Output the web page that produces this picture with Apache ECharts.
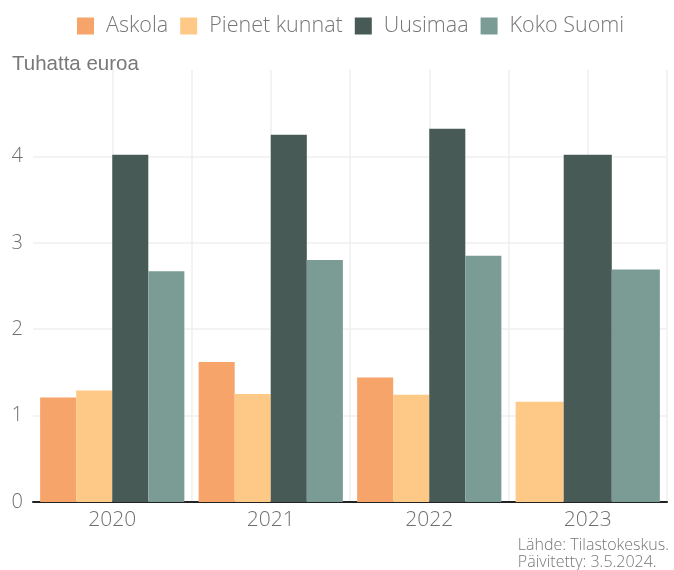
<!DOCTYPE html>
<html>
<head>
<meta charset="utf-8">
<script src="https://cdn.jsdelivr.net/npm/echarts@6/dist/echarts.min.js"></script>
<style>html,body{margin:0;padding:0;background:#fff}#c{width:674px;height:570px}</style>
</head>
<body>
<div id="c"></div>
<script>
const categories = ['2020', '2021', '2022', '2023'];
const seriesNames = ['Askola', 'Pienet kunnat', 'Uusimaa', 'Koko Suomi'];
const askola = [1.21, 1.62, 1.44, null];
const pienetKunnat = [1.29, 1.25, 1.24, 1.16];
const uusimaa = [4.02, 4.25, 4.32, 4.02];
const kokoSuomi = [2.67, 2.80, 2.85, 2.69];
const yTicks = [0, 1, 2, 3, 4, 5];
const colors = ['#f6a46a', '#fec986', '#485a55', '#7a9c95'];
const halfCats = categories.flatMap(c => [c + 'a', c + 'b']);

const chart = echarts.init(document.getElementById('c'), null, {renderer: 'canvas'});
const font = '"Open Sans"';
const allData = [askola, pienetKunnat, uusimaa, kokoSuomi];
// categories where every series has a value use the 4-bar layout;
// others drop the missing series and spread the remaining bars (as in the original)
const full = categories.map((c, j) => allData.every(d => d[j] != null));
const series = [];
seriesNames.forEach((n, i) => {
  series.push({
    name: n, type: 'bar', xAxisIndex: 0,
    data: allData[i].map((v, j) => full[j] ? v : null),
    itemStyle: {color: colors[i]},
    barGap: '0%', barCategoryGap: '9%'
  });
});
seriesNames.forEach((n, i) => {
  if (allData[i].some((v, j) => !full[j] && v != null)) {
    series.push({
      name: n, type: 'bar', xAxisIndex: 2,
      data: allData[i].map((v, j) => full[j] ? null : v),
      itemStyle: {color: colors[i]},
      barGap: '0%', barCategoryGap: '9%'
    });
  }
});

chart.setOption({
  animation: false,
  color: colors,
  legend: {
    top: 10, left: 72,
    itemWidth: 17, itemHeight: 17, itemGap: 12,
    icon: 'rect',
    textStyle: {fontFamily: font, fontWeight: 300, fontSize: 21.5, color: '#777', padding: [0, 0, 0, 7]},
    data: seriesNames
  },
  grid: {left: 33, right: 7, top: 70, bottom: 68, containLabel: false},
  xAxis: [{
    type: 'category', data: categories,
    axisLine: {lineStyle: {color: '#222', width: 2}},
    axisTick: {show: false},
    axisLabel: {fontFamily: font, fontWeight: 300, fontSize: 21, color: '#6f6f6f', margin: 8},
    splitLine: {show: false}
  }, {
    type: 'category', data: halfCats, position: 'bottom',
    axisLine: {show: false}, axisTick: {show: false}, axisLabel: {show: false},
    splitLine: {show: true, showMinLine: false, lineStyle: {color: '#efefef', width: 1.5}}
  }, {
    type: 'category', data: categories, show: false
  }],
  yAxis: {
    type: 'value', min: yTicks[0], max: yTicks[yTicks.length - 1], interval: 1,
    axisLine: {show: false}, axisTick: {show: false},
    axisLabel: {fontFamily: font, fontWeight: 300, fontSize: 20, color: '#6f6f6f', margin: 10, showMaxLabel: false},
    splitLine: {show: true, showMaxLine: false, lineStyle: {color: '#efefef', width: 1.5}}
  },
  series: series,
  graphic: [
    {type: 'text', left: 12, top: 54, style: {text: 'Tuhatta euroa', font: '20.5px "Liberation Sans"', fill: '#787878'}},
    {type: 'text', right: 5, top: 537, style: {text: 'Lähde: Tilastokeskus.\nPäivitetty: 3.5.2024.', font: '300 16px "Open Sans"', fill: '#777', align: 'right', lineHeight: 17}}
  ]
});
</script>
</body>
</html>
